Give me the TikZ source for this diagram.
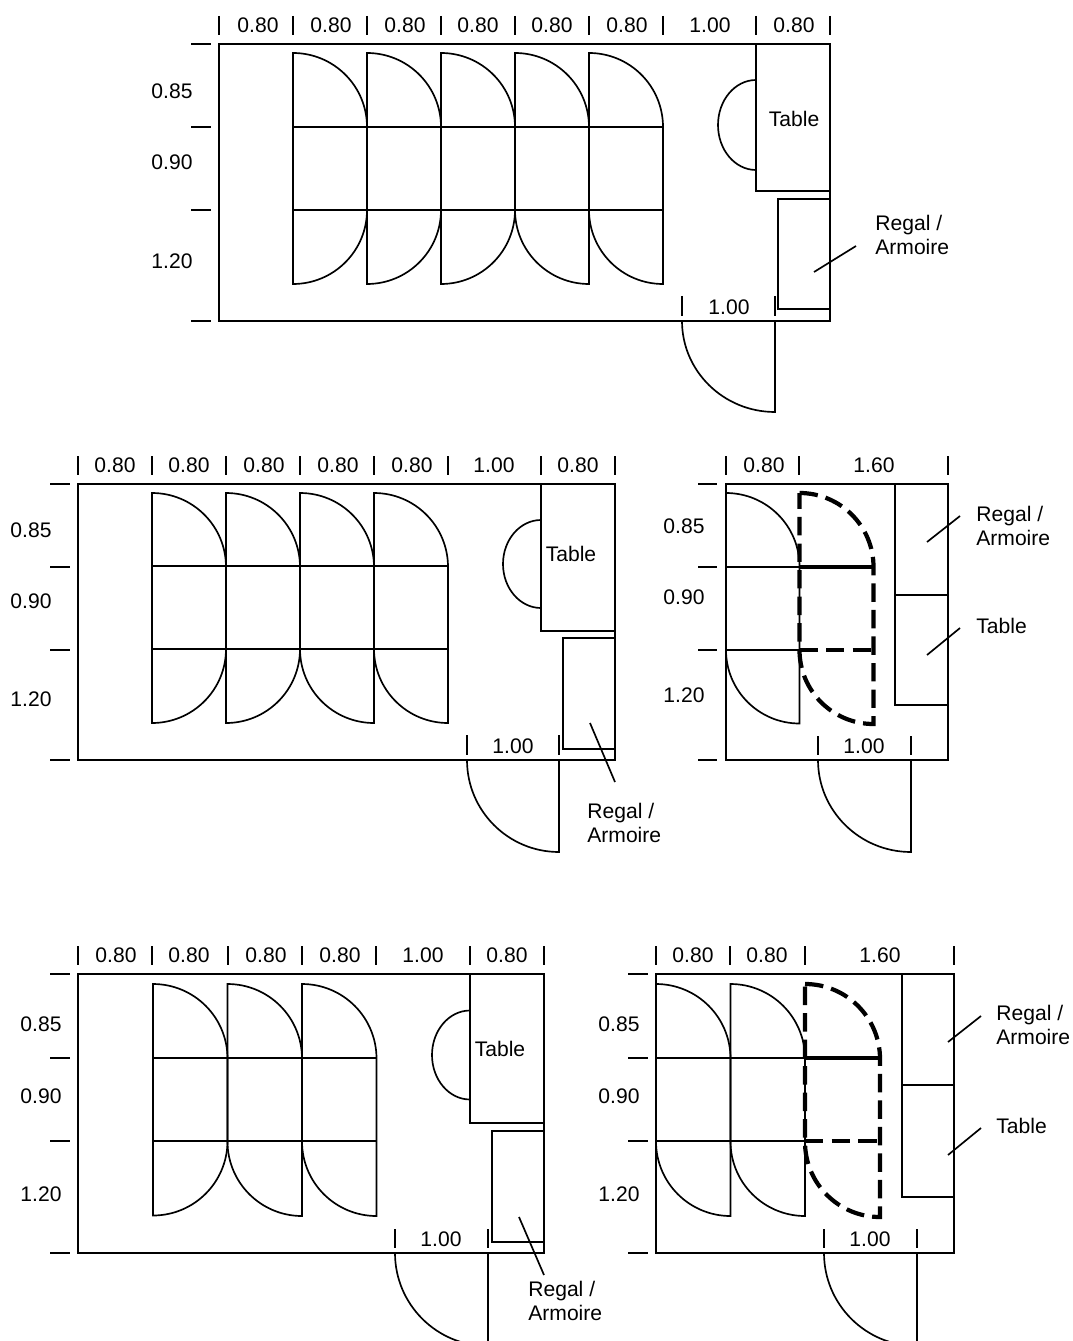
\documentclass[tikz,border=0pt]{standalone}
\usepackage{fontspec}
\setmainfont{Liberation Sans}
\tikzset{
  plan/.style={line width=0.95pt},
  planthick/.style={line width=2.4pt},
  plandash/.style={line width=2.4pt,dash pattern=on 10.5pt off 4.6pt},
  dimlabel/.style={font=\fontsize{12}{13.7}\selectfont,inner sep=0pt},
  notelabel/.style={font=\fontsize{12}{13.7}\selectfont,inner sep=0pt,anchor=west,align=left}
}
\begin{document}
\begin{tikzpicture}[x=0.02cm,y=0.02cm]
\clip (0,0) rectangle (1072,-1341);

%%% upper plan
\draw[plan] (219,-44) rectangle (830,-321); %room
\draw[plan] (219,-16) -- (219,-35);
\draw[plan] (293,-16) -- (293,-35);
\draw[plan] (367,-16) -- (367,-35);
\draw[plan] (441,-16) -- (441,-35);
\draw[plan] (515,-16) -- (515,-35);
\draw[plan] (589,-16) -- (589,-35);
\draw[plan] (663,-16) -- (663,-35);
\draw[plan] (756,-16) -- (756,-35);
\draw[plan] (830,-16) -- (830,-35);
\draw[plan] (191,-44) -- (211,-44);
\draw[plan] (191,-127) -- (211,-127);
\draw[plan] (191,-210) -- (211,-210);
\draw[plan] (191,-321) -- (211,-321);

\node[dimlabel] (uw1) at (258,-25) {0.80};
\node[dimlabel] (uw2) at (331,-25) {0.80};
\node[dimlabel] (uw3) at (405,-25) {0.80};
\node[dimlabel] (uw4) at (478,-25) {0.80};
\node[dimlabel] (uw5) at (552,-25) {0.80};
\node[dimlabel] (uw6) at (627,-25) {0.80};
\node[dimlabel] (uw7) at (710,-25) {1.00};
\node[dimlabel] (uw8) at (794,-25) {0.80};
\node[dimlabel] (uh1) at (172,-91) {0.85};
\node[dimlabel] (uh2) at (172,-162) {0.90};
\node[dimlabel] (uh3) at (172,-261) {1.20};

\draw[plan] (293,-210) -- (293,-53) arc (90:0:74) -- (367,-210) arc (0:-90:74) -- cycle; %seats
\draw[plan] (367,-210) -- (367,-53) arc (90:0:74) -- (441,-210) arc (0:-90:74) -- cycle;
\draw[plan] (441,-210) -- (441,-53) arc (90:0:74) -- (515,-210) arc (0:-90:74) -- cycle;
\draw[plan] (515,-210) -- (515,-53) arc (90:0:74) -- (589,-284) arc (-90:-180:74) -- cycle;
\draw[plan] (589,-210) -- (589,-53) arc (90:0:74) -- (663,-284) arc (-90:-180:74) -- cycle;
\draw[plan] (293,-127) -- (663,-127);
\draw[plan] (293,-210) -- (663,-210);

\draw[plan] (756,-44) rectangle (830,-191); %table
\draw[plan] (756,-80) arc (90:270:38 and 45);
\node[dimlabel] (utable) at (794,-119) {Table};
\draw[plan] (778,-199) rectangle (830,-309); %regal
\node[notelabel] (uregal) at (875,-235) {Regal /\\Armoire};
\coordinate (uregalin) at (814,-272);
\coordinate (uregalout) at (856,-246);
\draw[plan] (uregalin) -- (uregalout);

\draw[plan] (682,-296) -- (682,-316); %door
\draw[plan] (775,-296) -- (775,-316);
\node[dimlabel] (udoor) at (729,-307) {1.00};
\draw[plan] (682,-321) arc (180:270:93 and 91) -- (775,-321);

%%% middle left plan
\draw[plan] (78,-484) rectangle (615,-760); %room
\draw[plan] (78,-456) -- (78,-475);
\draw[plan] (152,-456) -- (152,-475);
\draw[plan] (226,-456) -- (226,-475);
\draw[plan] (300,-456) -- (300,-475);
\draw[plan] (374,-456) -- (374,-475);
\draw[plan] (448,-456) -- (448,-475);
\draw[plan] (541,-456) -- (541,-475);
\draw[plan] (615,-456) -- (615,-475);
\draw[plan] (50,-484) -- (70,-484);
\draw[plan] (50,-567) -- (70,-567);
\draw[plan] (50,-650) -- (70,-650);
\draw[plan] (50,-760) -- (70,-760);

\node[dimlabel] (mw1) at (115,-465) {0.80};
\node[dimlabel] (mw2) at (189,-465) {0.80};
\node[dimlabel] (mw3) at (264,-465) {0.80};
\node[dimlabel] (mw4) at (338,-465) {0.80};
\node[dimlabel] (mw5) at (412,-465) {0.80};
\node[dimlabel] (mw6) at (494,-465) {1.00};
\node[dimlabel] (mw7) at (578,-465) {0.80};
\node[dimlabel] (mh1) at (31,-530) {0.85};
\node[dimlabel] (mh2) at (31,-601) {0.90};
\node[dimlabel] (mh3) at (31,-699) {1.20};

\draw[plan] (152,-649) -- (152,-493) arc (90:0:74) -- (226,-649) arc (0:-90:74) -- cycle; %seats
\draw[plan] (226,-649) -- (226,-493) arc (90:0:74) -- (300,-649) arc (0:-90:74) -- cycle;
\draw[plan] (300,-649) -- (300,-493) arc (90:0:74) -- (374,-723) arc (-90:-180:74) -- cycle;
\draw[plan] (374,-649) -- (374,-493) arc (90:0:74) -- (448,-723) arc (-90:-180:74) -- cycle;
\draw[plan] (152,-566) -- (448,-566);
\draw[plan] (152,-649) -- (448,-649);

\draw[plan] (541,-484) rectangle (615,-631); %table
\draw[plan] (541,-520) arc (90:270:38 and 44);
\node[dimlabel] (mtable) at (571,-554) {Table};
\draw[plan] (563,-638) rectangle (615,-749); %regal
\node[notelabel] (mregal) at (587,-823) {Regal /\\Armoire};
\coordinate (mregalin) at (590,-723);
\coordinate (mregalout) at (615,-782);
\draw[plan] (mregalin) -- (mregalout);

\draw[plan] (467,-735) -- (467,-755); %door
\draw[plan] (559,-735) -- (559,-755);
\node[dimlabel] (mdoor) at (513,-746) {1.00};
\draw[plan] (467,-760) arc (180:270:92 and 92) -- (559,-760);

%%% middle right plan
\draw[plan] (726,-484) rectangle (948,-760); %room
\draw[plan] (726,-456) -- (726,-475);
\draw[plan] (799,-456) -- (799,-475);
\draw[plan] (948,-456) -- (948,-475);
\draw[plan] (698,-484) -- (717,-484);
\draw[plan] (698,-567) -- (717,-567);
\draw[plan] (698,-650) -- (717,-650);
\draw[plan] (698,-760) -- (717,-760);

\node[dimlabel] (rw1) at (764,-465) {0.80};
\node[dimlabel] (rw2) at (874,-465) {1.60};
\node[dimlabel] (rh1) at (684,-526) {0.85};
\node[dimlabel] (rh2) at (684,-597) {0.90};
\node[dimlabel] (rh3) at (684,-695) {1.20};

\draw[plan] (726,-650) -- (726,-493) arc (90:0:73.5) -- (799.5,-723.5) arc (-90:-180:73.5) -- cycle; %seat
\draw[plan] (726,-567) -- (799.5,-567);
\draw[plan] (726,-650) -- (799.5,-650);
\draw[plandash] (799.5,-493) arc (90:0:74) -- (873.5,-724) arc (-90:-180:74) -- cycle; %new seat
\draw[planthick] (799.5,-567) -- (873.5,-567);
\draw[plandash] (799.5,-650) -- (873.5,-650);

\draw[plan] (895,-484) rectangle (948,-595); %regal
\draw[plan] (895,-595) rectangle (948,-705); %table
\node[notelabel] (rregal) at (976,-526) {Regal /\\Armoire};
\node[notelabel] (rtable) at (976,-626) {Table};
\coordinate (rregalin) at (927,-542);
\coordinate (rregalout) at (960,-516);
\coordinate (rtablein) at (927,-655);
\coordinate (rtableout) at (960,-628);
\draw[plan] (rregalin) -- (rregalout);
\draw[plan] (rtablein) -- (rtableout);

\draw[plan] (818,-736) -- (818,-755); %door
\draw[plan] (911,-736) -- (911,-755);
\node[dimlabel] (rdoor) at (864,-746) {1.00};
\draw[plan] (818,-760) arc (180:270:93 and 92) -- (911,-760);

%%% lower left plan
\draw[plan] (78,-974) rectangle (544,-1253); %room
\draw[plan] (78,-946) -- (78,-965);
\draw[plan] (152,-946) -- (152,-965);
\draw[plan] (228,-946) -- (228,-965);
\draw[plan] (302,-946) -- (302,-965);
\draw[plan] (376,-946) -- (376,-965);
\draw[plan] (470,-946) -- (470,-965);
\draw[plan] (544,-946) -- (544,-965);
\draw[plan] (50,-974) -- (70,-974);
\draw[plan] (50,-1058) -- (70,-1058);
\draw[plan] (50,-1141) -- (70,-1141);
\draw[plan] (50,-1253) -- (70,-1253);

\node[dimlabel] (lw1) at (116,-955) {0.80};
\node[dimlabel] (lw2) at (189,-955) {0.80};
\node[dimlabel] (lw3) at (266,-955) {0.80};
\node[dimlabel] (lw4) at (340,-955) {0.80};
\node[dimlabel] (lw5) at (423,-955) {1.00};
\node[dimlabel] (lw6) at (507,-955) {0.80};
\node[dimlabel] (lh1) at (41,-1024) {0.85};
\node[dimlabel] (lh2) at (41,-1096) {0.90};
\node[dimlabel] (lh3) at (41,-1194) {1.20};

\draw[plan] (153,-1141) -- (153,-984) arc (90:0:74.5) -- (227.5,-1141) arc (0:-90:74.5) -- cycle; %seats
\draw[plan] (227.5,-1141) -- (227.5,-984) arc (90:0:74.5) -- (302,-1216) arc (-90:-180:74.5) -- cycle;
\draw[plan] (302,-1141) -- (302,-984) arc (90:0:74.5) -- (376.5,-1216) arc (-90:-180:74.5) -- cycle;
\draw[plan] (153,-1058) -- (376.5,-1058);
\draw[plan] (153,-1141) -- (376.5,-1141);

\draw[plan] (470,-974) rectangle (544,-1123); %table
\draw[plan] (470,-1010.5) arc (90:270:38 and 44.5);
\node[dimlabel] (ltable) at (500,-1049) {Table};
\draw[plan] (492,-1131) rectangle (544,-1242); %regal
\node[notelabel] (lregal) at (528,-1301) {Regal /\\Armoire};
\coordinate (lregalin) at (519,-1217);
\coordinate (lregalout) at (544,-1275);
\draw[plan] (lregalin) -- (lregalout);

\draw[plan] (395,-1229) -- (395,-1248); %door
\draw[plan] (488,-1229) -- (488,-1248);
\node[dimlabel] (ldoor) at (441,-1239) {1.00};
\draw[plan] (395,-1253) arc (180:270:93 and 93) -- (488,-1253);

%%% lower right plan
\draw[plan] (656,-974) rectangle (954,-1253); %room
\draw[plan] (656,-946) -- (656,-965);
\draw[plan] (730,-946) -- (730,-965);
\draw[plan] (805,-946) -- (805,-965);
\draw[plan] (954,-946) -- (954,-965);
\draw[plan] (628,-974) -- (648,-974);
\draw[plan] (628,-1058) -- (648,-1058);
\draw[plan] (628,-1141) -- (648,-1141);
\draw[plan] (628,-1253) -- (648,-1253);

\node[dimlabel] (kw1) at (693,-955) {0.80};
\node[dimlabel] (kw2) at (767,-955) {0.80};
\node[dimlabel] (kw3) at (880,-955) {1.60};
\node[dimlabel] (kh1) at (619,-1024) {0.85};
\node[dimlabel] (kh2) at (619,-1096) {0.90};
\node[dimlabel] (kh3) at (619,-1194) {1.20};

\draw[plan] (656,-1141) -- (656,-984) arc (90:0:74.5) -- (730.5,-1216) arc (-90:-180:74.5) -- cycle; %seats
\draw[plan] (730.5,-1141) -- (730.5,-984) arc (90:0:74.5) -- (805,-1216) arc (-90:-180:74.5) -- cycle;
\draw[plan] (656,-1058) -- (805,-1058);
\draw[plan] (656,-1141) -- (805,-1141);
\draw[plandash] (805,-984) arc (90:0:75) -- (880,-1217) arc (-90:-180:75) -- cycle; %new seat
\draw[planthick] (805,-1058) -- (880,-1058);
\draw[plandash] (805,-1141) -- (880,-1141);

\draw[plan] (902,-974) rectangle (954,-1085); %regal
\draw[plan] (902,-1085) rectangle (954,-1197); %table
\node[notelabel] (kregal) at (996,-1025) {Regal /\\Armoire};
\node[notelabel] (ktable) at (996,-1126) {Table};
\coordinate (kregalin) at (948,-1042);
\coordinate (kregalout) at (981,-1016);
\coordinate (ktablein) at (948,-1155);
\coordinate (ktableout) at (981,-1128);
\draw[plan] (kregalin) -- (kregalout);
\draw[plan] (ktablein) -- (ktableout);

\draw[plan] (824,-1229) -- (824,-1248); %door
\draw[plan] (917,-1229) -- (917,-1248);
\node[dimlabel] (kdoor) at (870,-1239) {1.00};
\draw[plan] (824,-1253) arc (180:270:93 and 93) -- (917,-1253);
\end{tikzpicture}
\end{document}
